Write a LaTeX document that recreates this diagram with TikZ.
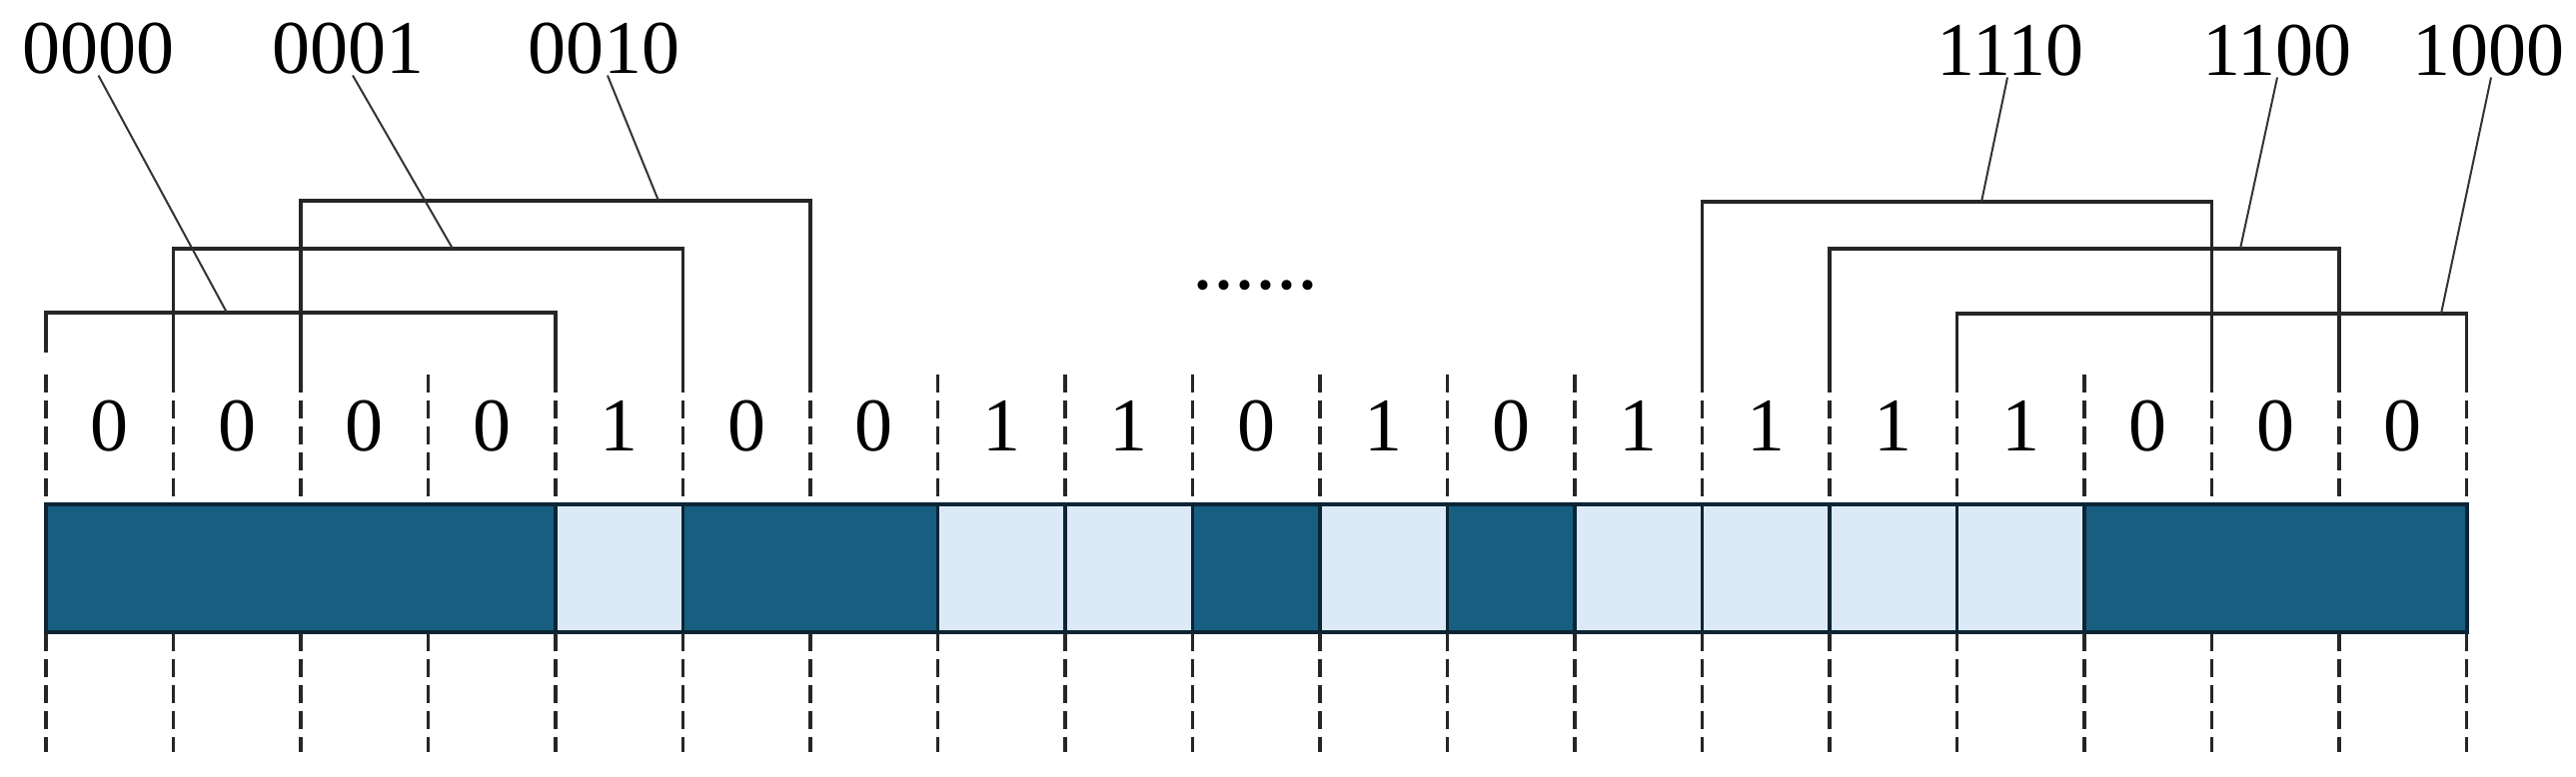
\documentclass[tikz,border=0pt]{standalone}
\usepackage{fontspec}
\setmainfont{Liberation Serif}
\definecolor{darkcell}{HTML}{175E80}
\definecolor{lightcell}{HTML}{DCE9F6}
\definecolor{celledge}{HTML}{0B2535}
\begin{document}
\begin{tikzpicture}[x=0.25pt,y=-0.25pt,
  lbl/.style={inner sep=0pt,anchor=base,font=\fontsize{19}{22}\selectfont},
  bitlbl/.style={inner sep=0pt,anchor=base,font=\fontsize{19}{22}\selectfont},
  bracket/.style={line width=0.8pt,black!85,line join=miter},
  leader/.style={line width=0.5pt,black!80},
  guide/.style={line width=0.9pt,black!85,dash pattern=on 4.5pt off 2pt},
  sep/.style={line width=0.9pt,celledge},
]
\useasboundingbox (0,0) rectangle (2578,778);
% cells and bits
\foreach \b [count=\i from 0] in {0,0,0,0,1,0,0,1,1,0,1,0,1,1,1,1,0,0,0} {
  \pgfmathsetmacro\xa{46+127.5*\i}
  \pgfmathsetmacro\xb{\xa+127.5}
  \pgfmathsetmacro\xc{\xa+63.75}
  \ifnum\b=1
    \fill[lightcell] (\xa,505) rectangle (\xb,633);
  \else
    \fill[darkcell] (\xa,505) rectangle (\xb,633);
  \fi
  \node[bitlbl] (b\i) at (\xc,452) {\b};
}
% separators next to light cells
\foreach \i in {4,5,7,8,9,10,11,12,13,14,15,16} {
  \draw[sep] (46+127.5*\i,505) -- (46+127.5*\i,633);
}
\draw[line width=1pt,celledge] (46,505) rectangle (2468.5,633);
% dashed guides
\foreach \i in {0,...,19} {
  \draw[guide] (46+127.5*\i,375) -- (46+127.5*\i,505);
  \draw[guide] (46+127.5*\i,634) -- (46+127.5*\i,753);
}
% brackets
\draw[bracket] (46,353) -- (46,313) -- (556,313) -- (556,393);
\draw[bracket] (173.5,393) -- (173.5,249) -- (683.5,249) -- (683.5,393);
\draw[bracket] (301,393) -- (301,201) -- (811,201) -- (811,393);
\draw[bracket] (1703.5,393) -- (1703.5,202) -- (2213.5,202) -- (2213.5,393);
\draw[bracket] (1831,393) -- (1831,249) -- (2341,249) -- (2341,393);
\draw[bracket] (1958.5,393) -- (1958.5,314) -- (2468.5,314) -- (2468.5,393);
\coordinate (k0) at (227,313);
\coordinate (k1) at (453,249);
\coordinate (k2) at (659,201);
\coordinate (k3) at (1983,202);
\coordinate (k4) at (2242,249);
\coordinate (k5) at (2443,314);
% labels
\node[lbl] (L0) at (98.5,74) {0000};
\node[lbl] (L1) at (348,74) {0001};
\node[lbl] (L2) at (604,74) {0010};
\node[lbl] (L3) at (2012,76) {1110};
\node[lbl] (L4) at (2279,76) {1100};
\node[lbl] (L5) at (2490,76) {1000};
\draw[leader] (L0.south) -- (k0);
\draw[leader] ([xshift=1.25pt]L1.south) -- (k1);
\draw[leader] ([xshift=1pt]L2.south) -- (k2);
\draw[leader] ([xshift=-0.75pt]L3.south) -- (k3);
\draw[leader] (L4.south) -- (k4);
\draw[leader] ([xshift=0.75pt]L5.south) -- (k5);
% dots
\node[inner sep=0pt,anchor=base,font=\fontsize{21}{24}\selectfont] (dots) at (1256,290) {......};
\end{tikzpicture}
\end{document}
